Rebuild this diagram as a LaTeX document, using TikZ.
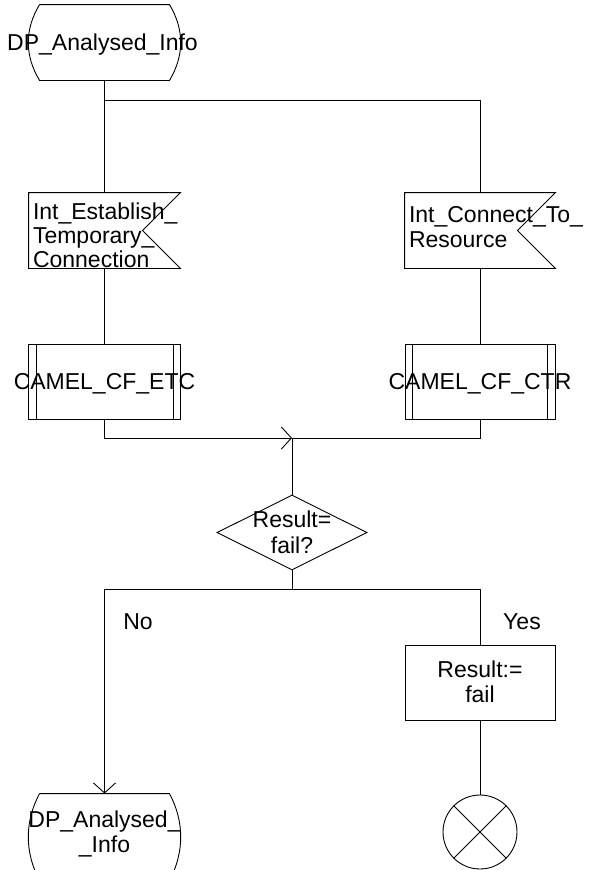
\documentclass[tikz,border=0pt]{standalone}
\usepackage{fontspec}
\setmainfont{Liberation Sans}
\usetikzlibrary{arrows.meta,shapes.geometric}
% centred multi-line text in a box of zero size
\newcommand{\ctext}[2][0pt]{\makebox[0pt]{\raisebox{\dimexpr-0.25em-3pt+#1\relax}[0pt][0pt]{\begin{tabular}[c]{@{}c@{}}#2\end{tabular}}}}
% left-aligned multi-line text, shifted horizontally by #2
\newcommand{\ltext}[3][0pt]{\makebox[0pt][l]{\hspace*{#2}\raisebox{\dimexpr-0.25em-3pt+#1\relax}[0pt][0pt]{\begin{tabular}[c]{@{}l@{}}#3\end{tabular}}}}
\tikzset{
  every node/.style={font=\fontsize{23}{25}\selectfont, inner sep=0pt},
  statebox/.style={minimum width=129pt, minimum height=75pt},
  sigbox/.style={minimum width=150pt, minimum height=75pt},
  procbox/.style={draw, minimum height=75pt,
    path picture={
      \draw ([xshift=7.5pt]path picture bounding box.north west) -- ([xshift=7.5pt]path picture bounding box.south west);
      \draw ([xshift=-7.5pt]path picture bounding box.north east) -- ([xshift=-7.5pt]path picture bounding box.south east);}},
  taskbox/.style={draw, minimum width=150pt, minimum height=75pt},
  decision/.style={draw, diamond, minimum width=150pt, minimum height=75pt},
  stopsym/.style={draw, circle, minimum size=74pt},
  flow/.style={-{Straight Barb[length=10pt,width=22pt]}},
}
\begin{document}
\begin{tikzpicture}[x=1pt,y=-1pt,line width=0.9pt]
\useasboundingbox (0,0) rectangle (592,870);
\fill[white] (0,0) rectangle (592,870);
\clip (0,0) rectangle (592,870);

% nodes
\node[statebox] (start) at (104.5,42.5) {\ctext{\hspace*{-4pt}DP\_Analysed\_Info}};
\node[sigbox, minimum width=151pt] (sig1) at (104.5,230.5) {\ltext[-5.5pt]{-71.5pt}{Int\_Establish\_\\[-1pt]Temporary\_\\[-1pt]Connection}};
\node[sigbox] (sig2) at (480,230.5) {\ltext[3pt]{-71pt}{Int\_Connect\_To\_\\Resource}};
\node[procbox, minimum width=152pt] (etc) at (104.5,381.5) {\ctext{CAMEL\_CF\_ETC}};
\node[procbox, minimum width=150pt] (ctr) at (480,381.5) {\ctext{CAMEL\_CF\_CTR}};
\node[decision] (dec) at (292,532.5) {\ctext{Result=\\[1pt]fail?}};
\node (no) at (138,622) {No};
\node (yes) at (522,622) {Yes};
\node[taskbox] (res) at (480,682.5) {\ctext{Result:=\\fail}};
\node[stopsym] (stop) at (480,832) {};
\node[statebox, minimum height=86pt] (end) at (104.5,837) {\ctext[4.5pt]{DP\_Analysed\_\\\_Info}};

\coordinate (fork) at (104.5,100);
\coordinate (join) at (292,438);
\coordinate (split) at (292,589);

% outlines of the state and signal symbols
\draw (start.north west) -- (start.north east)
  .. controls +(15,25) and +(15,-25) .. (start.south east)
  -- (start.south west)
  .. controls +(-15,-25) and +(-15,25) .. (start.north west);
\draw (end.north west) -- (end.north east)
  .. controls +(15,28) and +(15,-28) .. (end.south east)
  -- (end.south west)
  .. controls +(-15,-28) and +(-15,28) .. (end.north west);
\draw (sig1.north west) -- (sig1.north east) -- ([xshift=-38pt]sig1.east) -- (sig1.south east) -- (sig1.south west) -- cycle;
\draw (sig2.north west) -- (sig2.north east) -- ([xshift=-38pt]sig2.east) -- (sig2.south east) -- (sig2.south west) -- cycle;
\draw (stop.north west) -- (stop.south east);
\draw (stop.north east) -- (stop.south west);

% connectors
\draw (start.south) -- (sig1.north);
\draw (fork) -| (sig2.north);
\draw (sig1.south) -- (etc.north);
\draw (sig2.south) -- (ctr.north);
\draw[flow] (etc.south) |- (join);
\draw (ctr.south) |- (join);
\draw (join) -- (dec.north);
\draw (dec.south) -- (split);
\draw[flow] (split) -| (end.north);
\draw (split) -| (res.north);
\draw (res.south) -- (stop.north);
\end{tikzpicture}
\end{document}
